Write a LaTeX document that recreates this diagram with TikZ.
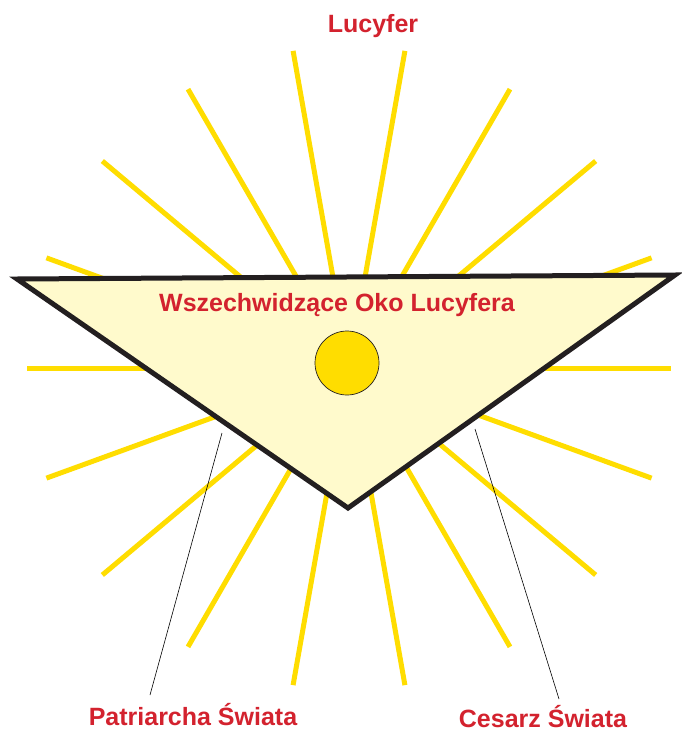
\documentclass[tikz,border=0pt]{standalone}
\usepackage{fontspec}
\setmainfont{Liberation Sans}
\usetikzlibrary{calc}
\definecolor{raycol}{RGB}{255,221,0}
\definecolor{trifill}{RGB}{255,250,204}
\definecolor{edgecol}{RGB}{35,31,32}
\definecolor{labred}{RGB}{211,34,46}
\begin{document}
\begin{tikzpicture}[x=1pt,y=-1pt,
  rayline/.style={draw=raycol,line width=5pt},
  tri/.style={draw=edgecol,fill=trifill,line width=5pt,line join=miter},
  sun/.style={circle,draw=edgecol,line width=0.7pt,fill=raycol,minimum size=64pt,inner sep=0pt},
  leader/.style={draw=black,line width=0.6pt},
  lab/.style={text=labred,font=\fontsize{25}{28}\selectfont\bfseries,inner sep=0pt,anchor=base}]
\useasboundingbox (0,0) rectangle (681,731);
\coordinate (c) at (349,368);
\foreach \a in {0,20,...,340}
  \draw[rayline] ($(c)+(\a:60)$) -- ($(c)+(\a:322)$);
\draw[tri] (17,279) -- (675,275) -- (348,508) -- cycle;
\node[sun] (eye) at (347,363) {};
\node[lab] (luc) at (373,32) {Lucyfer};
\node[lab] (oko) at (337,311) {Wszechwidzące Oko Lucyfera};
\node[lab] (pat) at (193,725) {Patriarcha Świata};
\node[lab] (ces) at (543,727) {Cesarz Świata};
\coordinate (p1) at (222,433);
\coordinate (p2) at (150,695);
\coordinate (q1) at (475,429);
\coordinate (q2) at (559,699);
\draw[leader] (p1) -- (p2);
\draw[leader] (q1) -- (q2);
\end{tikzpicture}
\end{document}
